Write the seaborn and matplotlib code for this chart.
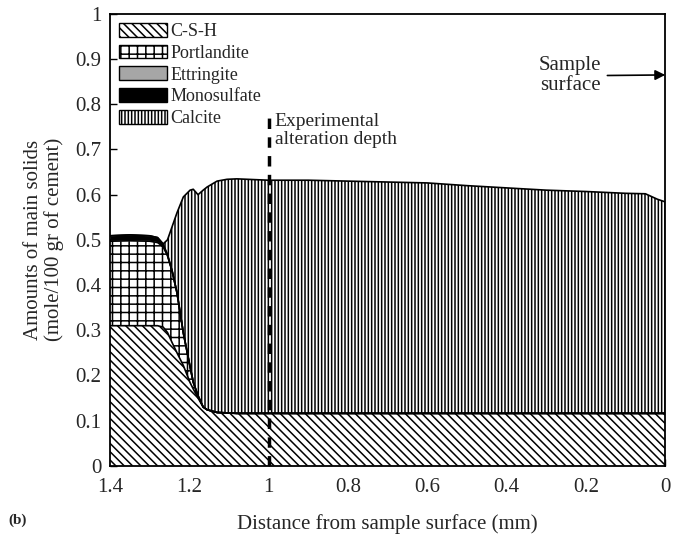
import numpy as np
import pandas as pd
import matplotlib
matplotlib.use("Agg")
import matplotlib.pyplot as plt
import matplotlib.patches as mpatches
import seaborn as sns

# ── Data ───────────────────────────────────────────────────────
distance = [1.40, 1.35, 1.30, 1.28, 1.266, 1.255, 1.243, 1.231, 1.215, 1.198,
            1.19, 1.178, 1.165, 1.155, 1.13, 1.105, 1.08, 1.0, 0.9, 0.8,
            0.7, 0.6, 0.5, 0.4, 0.3, 0.2, 0.1, 0.05, 0.02, 0.0]

csh = [0.31, 0.31, 0.31, 0.31, 0.307, 0.295, 0.272, 0.25, 0.222, 0.184,
       0.17, 0.15, 0.13, 0.124, 0.118, 0.117, 0.116, 0.116, 0.116, 0.116,
       0.116, 0.116, 0.116, 0.116, 0.116, 0.116, 0.116, 0.116, 0.116, 0.116]

portlandite = [0.187, 0.188, 0.187, 0.184, 0.178, 0.17, 0.158, 0.133, 0.072, 0.035,
               0.015, 0.005, 0, 0, 0, 0, 0, 0, 0, 0,
               0, 0, 0, 0, 0, 0, 0, 0, 0, 0]

ettringite = [0.003, 0.003, 0.003, 0.003, 0.002, 0.001, 0, 0, 0, 0,
              0, 0, 0, 0, 0, 0, 0, 0, 0, 0,
              0, 0, 0, 0, 0, 0, 0, 0, 0, 0]

monosulfate = [0.009, 0.010, 0.009, 0.008, 0.004, 0.002, 0, 0, 0, 0,
               0, 0, 0, 0, 0, 0, 0, 0, 0, 0,
               0, 0, 0, 0, 0, 0, 0, 0, 0, 0]

calcite = [0, 0, 0, 0, 0, 0.032, 0.10, 0.177, 0.301, 0.391,
           0.427, 0.445, 0.48, 0.493, 0.512, 0.517, 0.519, 0.516, 0.516, 0.514,
           0.512, 0.51, 0.504, 0.499, 0.494, 0.491, 0.487, 0.486, 0.474, 0.468]

phases = ["C-S-H", "Portlandite", "Ettringite", "Monosulfate", "Calcite"]
alteration_depth = 1.0

df = pd.DataFrame({"distance": distance, "C-S-H": csh, "Portlandite": portlandite,
                   "Ettringite": ettringite, "Monosulfate": monosulfate,
                   "Calcite": calcite})

STYLE = {
    "C-S-H":       dict(facecolor="white", hatch="\\\\\\\\"),
    "Portlandite": dict(facecolor="white", hatch="++"),
    "Ettringite":  dict(facecolor="#a6a6a6", hatch=None),
    "Monosulfate": dict(facecolor="black", hatch=None),
    "Calcite":     dict(facecolor="white", hatch="|||||"),
}

sns.set_theme(style="ticks")
plt.rcParams["font.family"] = ["Liberation Serif", "DejaVu Serif"]
plt.rcParams["hatch.linewidth"] = 1.1
plt.rcParams["xtick.direction"] = "in"
plt.rcParams["ytick.direction"] = "in"

fig = plt.figure(figsize=(6.83, 5.36), dpi=100)
ax = fig.add_axes([0.161, 0.131, 0.813, 0.843])

x = df["distance"].values
base = np.zeros(len(df))
for ph in phases:
    top = base + df[ph].values
    st = STYLE[ph]
    ax.fill_between(x, base, top, facecolor=st["facecolor"], hatch=st["hatch"],
                    edgecolor="black", linewidth=0, zorder=1)
    sns.lineplot(x=x, y=top, ax=ax, color="black", linewidth=1.2,
                 sort=False, zorder=2)
    base = top

ax.axvline(alteration_depth, ymin=0, ymax=0.783, color="black", linewidth=2.5,
           linestyle=(0, (3, 2.4)), zorder=3)
ax.text(0.985, 0.742, "Experimental\nalteration depth", fontsize=14,
        ha="left", va="center", linespacing=1.1)

ax.annotate("Sample\nsurface", xy=(0.0, 0.865), xytext=(0.24, 0.863),
            fontsize=15, ha="center", va="center", linespacing=1.05,
            arrowprops=dict(arrowstyle="-|>", color="black", lw=1.2,
                            shrinkA=2, shrinkB=0, mutation_scale=15))

ax.set_xlim(1.4, 0)
ax.set_ylim(0, 1)
ax.set_xticks([1.4, 1.2, 1, 0.8, 0.6, 0.4, 0.2, 0])
ax.set_xticklabels(["1.4", "1.2", "1", "0.8", "0.6", "0.4", "0.2", "0"])
ax.set_yticks(np.arange(0, 1.01, 0.1))
ax.set_yticklabels(["0", "0.1", "0.2", "0.3", "0.4", "0.5", "0.6", "0.7",
                    "0.8", "0.9", "1"])
ax.tick_params(labelsize=15, length=5, width=1, color="black")
ax.tick_params(axis="x", pad=9)
ax.tick_params(axis="y", pad=6)
for s in ax.spines.values():
    s.set_linewidth(1.3)
    s.set_color("black")

ax.set_xlabel("Distance from sample surface (mm)", fontsize=15, labelpad=12)
ax.set_ylabel("Amounts of main solids\n(mole/100 gr of cement)", fontsize=15,
              labelpad=8, linespacing=1.1)

handles = [mpatches.Patch(facecolor=STYLE[p]["facecolor"], hatch=STYLE[p]["hatch"],
                          edgecolor="black", linewidth=1.0, label=p)
           for p in phases]
ax.legend(handles=handles, loc="upper left", frameon=False, fontsize=13,
          handlelength=2.65, handleheight=0.8, handletextpad=0.2,
          labelspacing=0.25, borderaxespad=0.3, borderpad=0.2)

fig.text(0.012, 0.022, "(b)", fontsize=11, fontweight="bold")

fig.savefig("out.png", dpi=100)
